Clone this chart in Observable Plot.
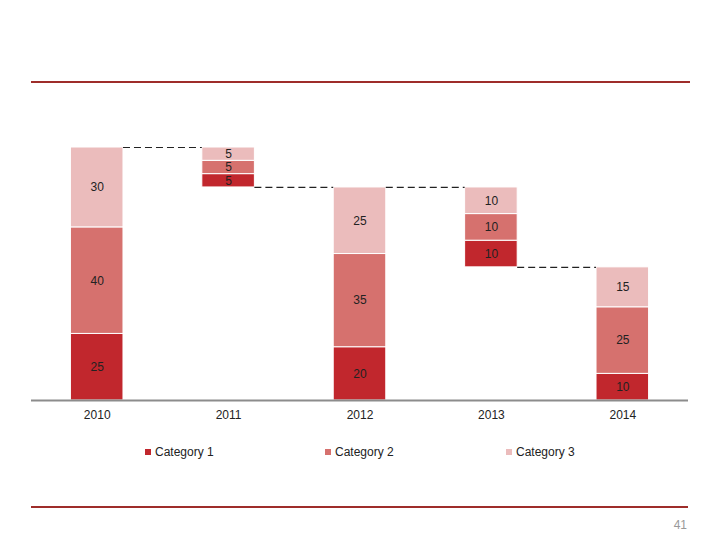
<!DOCTYPE html>
<html><head><meta charset="utf-8">
<script src="https://cdn.jsdelivr.net/npm/d3@7"></script>
<script src="https://cdn.jsdelivr.net/npm/@observablehq/plot@0.6"></script>
<style>
body{margin:0;background:#fff;font-family:"Liberation Sans",Arial,sans-serif;}
#page{position:relative;width:720px;height:540px;overflow:hidden;background:#fff;}
.rule{position:absolute;height:2px;background:#9e2d2a;}
#chart{position:absolute;left:0;top:0;}
.item{position:absolute;top:444px;font-size:12px;color:#222;line-height:16px;white-space:nowrap;}
.sw{display:inline-block;width:6px;height:6px;margin-right:4px;vertical-align:1px;}
#pnum{position:absolute;top:517px;right:33px;font-size:12px;color:#999;line-height:16px;}
</style></head>
<body><div id="page">
<div class="rule" style="top:81px;left:31px;width:659px;"></div>
<div id="chart"></div>
<div id="legend"></div>
<div class="rule" style="top:506px;left:31px;width:657px;"></div>
<div id="pnum">41</div>
</div>
<script>
const years = ["2010","2011","2012","2013","2014"];
const kinds = ["total","delta","total","delta","total"];
const categories = ["Category 1","Category 2","Category 3"];
const cat1 = [25,5,20,10,10];
const cat2 = [40,5,35,10,25];
const cat3 = [30,5,25,10,15];
const colors = ["#c1272d","#d6716e","#ebbcbc"];

const series = [cat1, cat2, cat3];
let running = 0;
const segs = [];
const connectors = [];
years.forEach((yr, i) => {
  const sum = cat1[i] + cat2[i] + cat3[i];
  const base = kinds[i] === "total" ? 0 : running - sum;
  let acc = base;
  series.forEach((s, k) => {
    segs.push({i, year: yr, cat: categories[k], y1: acc, y2: acc + s[i], v: s[i]});
    acc += s[i];
  });
  running = kinds[i] === "total" ? sum : base;
  if (i < years.length - 1) connectors.push({i, level: running});
});

const half = 0.2;
const chart = Plot.plot({
  width: 720,
  height: 430,
  marginLeft: 31,
  marginRight: 32,
  marginTop: 147,
  marginBottom: 30,
  style: {fontFamily: '"Liberation Sans", Arial, sans-serif', background: "transparent"},
  x: {domain: [-0.5, years.length - 0.5], axis: null},
  y: {domain: [0, 95], axis: null},
  color: {domain: categories, range: colors},
  marks: [
    Plot.rect(segs, {x1: d => d.i - half, x2: d => d.i + half, y1: "y1", y2: "y2", fill: "cat", stroke: "white", strokeWidth: 1}),
    Plot.ruleY(connectors, {y: "level", x1: d => d.i + half, x2: d => d.i + 1 - half, stroke: "#222", strokeWidth: 1.2, strokeDasharray: "7,4"}),
    Plot.ruleY([0], {stroke: "#8c8c8c", strokeWidth: 2}),
    Plot.text(segs, {x: "i", y: d => (d.y1 + d.y2) / 2, text: d => String(d.v), fontSize: 12, fill: "#222"}),
    Plot.text(years, {x: (d, i) => i, y: 0, dy: 15, text: d => d, fontSize: 12, fill: "#222"})
  ]
});
document.getElementById("chart").appendChild(chart);

const legendX = [145, 325, 506];
const lg = document.getElementById("legend");
categories.forEach((c, k) => {
  const el = document.createElement("div");
  el.className = "item";
  el.style.left = legendX[k] + "px";
  el.innerHTML = `<span class="sw" style="background:${colors[k]}"></span>${c}`;
  lg.appendChild(el);
});
</script>
</body></html>
